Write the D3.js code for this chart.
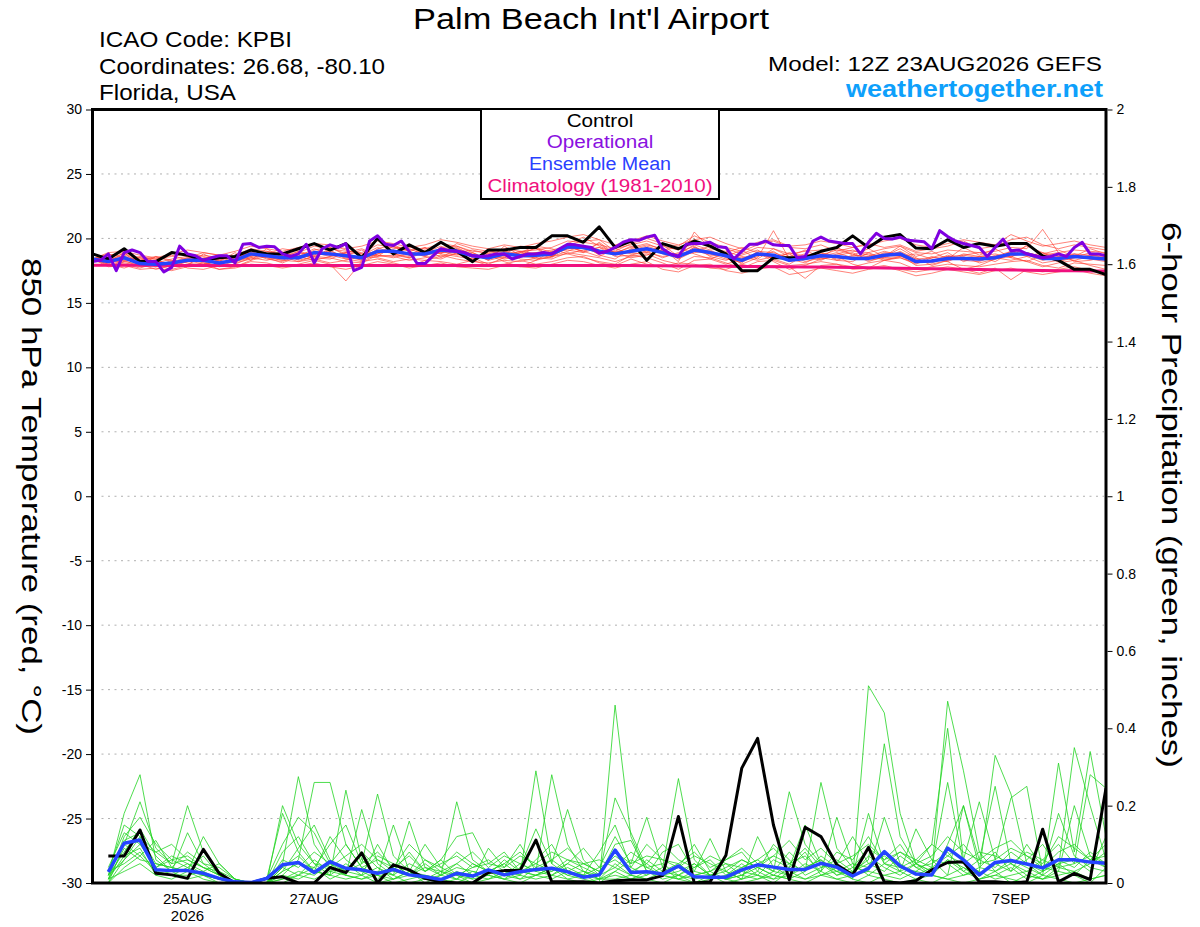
<!DOCTYPE html>
<html><head><meta charset="utf-8">
<script src="https://cdn.jsdelivr.net/npm/d3@7"></script>
<style>body{margin:0;background:#fff}svg{display:block}</style>
</head><body>
<svg id="chart" width="1200" height="927"></svg>
<script>
// ---------------- DATA ----------------
const RUN_START = "2026-08-23T12:00:00Z";
const STEP_HOURS = 6;          // ensemble / control / mean time step
const OPER_STEP_HOURS = 3;     // operational time step

const tempTicks = [-30,-25,-20,-15,-10,-5,0,5,10,15,20,25,30];
const tempGrid = [-25,-20,-15,-10,-5,0,5,10,15,20,25];
const precipTicks = [0,0.2,0.4,0.6,0.8,1,1.2,1.4,1.6,1.8,2];
const xTickDates = ["2026-08-25T00:00:00Z","2026-08-27T00:00:00Z","2026-08-29T00:00:00Z","2026-09-01T00:00:00Z","2026-09-03T00:00:00Z","2026-09-05T00:00:00Z","2026-09-07T00:00:00Z"];
const xTickLabels = ["25AUG","27AUG","29AUG","1SEP","3SEP","5SEP","7SEP"];
const yearLabel = "2026";

const legendItems = ["Control","Operational","Ensemble Mean","Climatology (1981-2010)"];

// 850 hPa temperature, control (0..384h every 6h)
const tempControl = [
18.8,18.4,19.2,18.2,18.2,18.9,18.7,18.3,18.5,18.6,
19.1,18.8,18.8,19.2,19.6,19.1,19.6,18.5,20.0,18.8,
19.5,18.9,19.7,19.0,18.2,19.1,19.1,19.3,19.3,20.2,
20.2,19.7,20.9,19.3,19.8,18.3,19.6,19.2,19.8,19.4,
18.8,17.5,17.5,18.5,18.5,18.5,19.0,19.3,20.2,19.3,
20.1,20.3,19.25,19.2,19.9,19.3,19.6,19.4,19.6,19.6,
18.65,18.3,17.6,17.6,17.2];

// ensemble mean temperature
const tempMean = [
18.4,18.2,18.5,18.05,18.0,18.1,18.3,18.3,18.1,18.3,
18.8,18.65,18.5,18.5,18.9,18.8,18.65,18.5,19.0,19.0,
18.8,18.8,19.1,19.0,18.65,18.5,18.8,18.65,18.7,18.8,
19.35,19.3,19.0,18.8,19.0,19.2,18.9,18.6,19.1,18.9,
18.65,18.3,18.8,18.7,18.3,18.45,18.65,18.6,18.45,18.45,
18.7,18.8,18.2,18.25,18.45,18.45,18.4,18.5,18.8,18.8,
18.45,18.45,18.6,18.5,18.4];

// climatology (1981-2010)
const tempClimo = [
17.92,17.92,17.91,17.91,17.91,17.90,17.90,17.90,17.90,17.90,
17.89,17.89,17.89,17.89,17.89,17.89,17.89,17.89,17.89,17.89,
17.89,17.89,17.90,17.90,17.90,17.90,17.90,17.90,17.90,17.90,
17.90,17.90,17.90,17.89,17.89,17.88,17.88,17.87,17.86,17.85,
17.84,17.83,17.82,17.81,17.80,17.79,17.78,17.76,17.74,17.72,
17.70,17.68,17.66,17.64,17.62,17.60,17.58,17.56,17.55,17.53,
17.52,17.50,17.49,17.48,17.47];

// operational temperature (0..384h every 3h)
const tempOper = [
18.2,18.3,18.8,17.5,18.9,19.1,18.9,18.2,18.2,17.4,
17.75,19.4,18.8,18.65,18.3,18.5,18.65,18.65,18.1,19.55,
19.6,19.3,19.4,19.35,18.8,18.6,18.8,19.55,18.1,19.2,
19.5,19.3,19.6,17.5,17.75,19.8,20.2,19.55,19.45,19.8,
19.0,18.05,18.05,18.65,19.2,19.05,19.0,18.9,18.65,18.6,
18.65,18.8,18.8,18.4,18.6,18.8,18.8,18.9,18.8,19.2,
19.55,19.5,19.4,19.3,18.85,19.0,19.3,19.7,19.9,19.85,
20.1,20.25,19.2,18.8,18.6,19.55,19.6,19.6,19.7,19.35,
19.3,18.4,19.0,19.55,19.55,19.8,19.5,19.45,19.45,18.5,
18.6,19.8,20.1,19.8,19.7,19.6,19.6,18.8,19.7,20.4,
20.0,19.95,20.1,19.85,19.8,19.75,19.2,20.6,20.15,19.8,
19.6,19.45,19.3,18.6,19.3,19.95,19.05,19.1,18.8,18.65,
18.5,18.6,18.8,18.6,19.3,19.7,18.8,18.8,18.65];

// ensemble members, temperature
const tempMember01 = [
18.4,18.6,18.3,18.5,18.2,17.9,18.4,18.7,18.5,18.2,
18.6,19.0,18.7,18.4,19.1,19.3,18.8,18.3,19.2,19.5,
19.0,18.6,19.3,19.4,18.9,18.3,18.6,19.0,18.8,18.5,
19.6,20.1,19.4,18.9,19.3,19.6,19.1,18.4,19.0,19.4,
18.8,18.0,18.5,20.6,18.4,18.1,18.7,19.1,18.8,18.2,
18.6,19.2,18.5,17.9,18.3,18.8,18.6,18.2,18.9,19.4,
18.9,18.3,18.5,18.9,18.7];
const tempMember02 = [
18.4,18.0,18.6,18.2,17.8,18.3,18.1,17.9,18.4,18.6,
18.9,18.4,18.2,18.7,18.5,18.4,18.9,18.8,18.6,18.7,
18.5,19.0,18.8,18.6,18.4,18.8,19.1,18.4,18.3,19.0,
19.1,18.9,19.3,18.6,18.7,19.0,18.5,18.9,19.4,18.6,
18.3,18.7,19.1,18.4,18.0,18.7,18.9,18.3,18.2,18.9,
18.4,18.5,18.0,18.5,18.9,18.2,18.6,18.8,18.5,18.2,
18.7,18.9,18.2,18.3,18.6];
const tempMember03 = [
18.4,18.3,18.0,17.7,18.1,18.4,18.6,18.2,17.8,18.0,
18.5,18.8,18.9,18.3,18.6,19.1,18.4,18.2,18.8,19.2,
19.4,18.7,18.9,19.2,18.5,18.0,18.5,18.9,19.2,18.6,
19.0,19.5,18.7,18.4,19.2,19.5,19.2,18.2,20.5,19.2,
19.0,18.6,18.3,18.6,18.8,18.2,18.5,18.3,18.7,18.6,
19.0,18.7,17.9,18.0,18.3,18.6,18.1,18.4,19.0,18.6,
18.1,18.3,18.8,18.4,18.2];
const tempMember04 = [
18.4,18.5,18.8,18.4,18.3,17.8,18.0,18.5,18.6,18.4,
19.0,18.5,18.1,18.6,19.2,18.7,18.4,18.7,19.3,18.8,
18.5,18.9,19.4,18.8,18.6,18.7,18.4,18.6,18.9,19.1,
19.4,19.0,18.6,19.2,18.8,18.9,18.6,18.8,19.5,19.1,
18.5,18.1,19.0,18.9,18.5,18.8,18.4,18.7,18.9,18.3,
18.5,19.0,18.4,18.2,18.7,18.3,18.2,18.7,18.6,18.9,
18.6,18.2,18.5,18.7,18.5];
const tempMember05 = [
18.4,17.9,18.2,18.0,17.6,17.9,18.2,18.4,18.0,17.8,
18.3,18.6,18.3,18.2,18.6,18.5,18.2,18.1,18.7,18.6,
18.3,18.5,18.7,18.4,18.2,18.1,18.3,18.2,18.5,18.4,
18.9,18.7,18.5,18.2,18.6,18.8,18.3,18.0,18.6,18.5,
18.1,17.7,18.2,18.3,17.9,18.0,18.2,18.0,17.8,18.1,
18.3,18.1,17.6,17.8,18.0,17.9,17.8,18.0,18.2,18.3,
17.9,17.7,18.1,18.0,17.9];
const tempMember06 = [
18.4,18.7,18.9,18.5,18.4,18.6,18.8,18.6,18.3,18.7,
19.2,19.0,18.8,18.9,19.4,19.2,19.0,18.9,19.5,19.3,
19.1,19.2,19.6,19.4,19.0,18.9,19.2,19.0,19.1,19.3,
19.8,19.7,19.5,19.2,19.5,19.8,19.4,19.1,19.6,19.5,
19.2,18.8,19.3,19.2,18.8,19.0,19.1,19.2,19.0,18.9,
19.2,19.4,18.9,18.8,19.1,19.0,18.9,19.0,19.3,19.2,
20.7,18.9,19.1,19.0,18.9];
const tempMember07 = [
18.4,18.1,18.3,17.8,17.9,18.2,17.7,17.6,17.9,18.2,
18.5,18.3,18.6,18.2,18.4,18.1,18.3,18.6,18.5,18.2,
18.4,18.3,18.6,18.8,18.4,18.7,18.2,17.8,18.3,18.6,
18.8,18.5,18.2,18.0,18.7,18.5,18.1,17.6,18.3,18.4,
18.0,18.4,18.9,18.2,17.6,17.9,18.4,18.6,18.0,17.7,
18.3,18.5,18.1,18.6,18.2,17.6,17.9,18.4,18.6,18.2,
17.8,18.1,18.3,17.9,17.6];
const tempMember08 = [
18.4,18.2,18.4,18.1,18.2,18.0,18.5,18.3,18.1,18.4,
18.7,18.5,18.3,18.8,18.9,18.6,18.9,18.4,18.8,19.1,
18.7,18.9,19.0,18.7,18.9,18.4,18.9,18.6,18.5,19.0,
19.2,19.3,18.8,19.0,18.9,19.1,19.0,18.7,18.9,19.0,
18.6,18.5,18.8,18.5,18.4,18.6,18.9,18.6,18.4,18.6,
18.8,18.9,18.4,18.5,18.6,18.7,18.5,18.6,19.0,18.9,
18.6,18.7,18.8,18.7,18.6];
const tempMember09 = [
18.4,18.3,18.7,18.3,18.0,18.1,18.2,18.4,18.6,18.3,
18.6,18.9,18.6,18.4,18.8,19.0,18.6,18.3,19.0,18.9,
19.2,18.7,19.1,19.3,18.7,18.4,18.7,19.0,18.4,18.6,
19.3,19.0,19.6,18.7,19.1,19.4,19.0,18.5,19.3,18.8,
18.4,18.2,18.6,19.0,18.2,18.5,18.8,18.4,18.6,18.8,
18.5,18.6,18.3,18.1,18.6,18.5,18.3,18.5,18.9,18.7,
18.3,18.6,18.7,18.5,18.3];
const tempMember10 = [
18.4,18.4,18.1,17.9,18.3,18.0,18.4,18.1,17.9,18.5,
18.9,18.7,18.4,18.5,18.7,18.9,18.5,18.6,19.1,18.8,
18.6,19.1,18.9,18.9,18.6,18.5,19.0,18.8,18.9,18.7,
19.2,19.4,19.1,18.8,18.9,19.3,18.8,18.5,19.1,18.7,
18.7,18.4,18.7,18.6,18.3,18.4,18.6,18.9,18.5,18.4,
18.9,18.8,18.1,18.3,18.5,18.4,18.6,18.6,18.7,18.8,
18.4,18.5,18.6,18.4,18.5];
const tempMember11 = [
18.4,18.8,18.5,18.3,18.6,18.2,18.5,18.9,18.7,18.6,
19.1,18.8,19.2,19.0,18.7,19.5,19.1,18.8,18.9,19.4,
19.0,19.3,18.8,19.6,19.2,19.0,18.8,19.4,19.3,18.9,
19.5,19.8,19.9,19.0,19.6,20.0,19.6,19.4,20.2,19.7,
19.3,19.0,19.5,19.8,19.3,19.2,19.5,19.0,19.3,19.6,
19.3,19.5,19.0,19.2,19.4,19.8,19.2,19.4,19.9,20.1,
19.5,19.2,19.5,19.3,19.1];
const tempMember12 = [
18.4,18.0,17.7,18.1,17.9,17.6,17.9,18.1,17.6,17.8,
18.2,18.1,17.8,18.0,18.3,18.0,16.7,18.2,18.4,18.1,
17.8,18.3,18.2,18.0,18.3,17.9,18.0,18.3,18.0,18.2,
18.5,18.6,18.1,17.9,18.4,18.0,17.8,18.1,18.0,17.7,
17.6,18.0,17.7,17.9,17.8,16.9,17.9,18.0,17.6,17.7,
17.9,17.6,17.4,17.6,17.8,17.6,17.3,17.7,16.8,17.6,
17.4,17.6,17.8,17.5,17.3];
const tempMember13 = [
18.4,18.9,19.0,18.7,18.5,18.8,19.1,18.9,18.7,19.0,
19.4,19.2,19.0,19.3,19.6,19.5,19.2,19.4,19.8,19.6,
19.3,19.5,19.9,19.7,19.4,19.2,19.5,19.3,19.6,19.8,
20.1,20.3,19.9,19.5,19.8,20.2,19.8,19.5,19.9,20.1,
19.6,19.2,19.7,19.9,19.4,19.5,19.8,19.6,19.3,19.5,
19.8,20.0,19.5,19.3,19.6,19.9,19.7,19.5,20.3,19.8,
19.4,19.6,19.8,19.5,19.3];
const tempMember14 = [
18.4,17.8,17.9,17.6,17.7,17.5,17.8,17.9,17.6,17.7,
18.0,17.9,17.7,17.9,18.1,17.8,17.6,17.9,18.2,18.0,
17.7,17.9,18.1,17.8,17.7,17.6,17.9,17.8,17.7,18.0,
18.3,18.2,17.9,17.7,18.0,18.2,17.6,17.4,17.9,18.0,
17.5,17.3,17.6,17.8,17.2,17.4,17.7,17.5,17.3,17.6,
17.8,17.5,17.1,17.3,17.6,17.4,17.2,17.5,17.7,17.4,
17.2,17.4,17.6,17.3,17.1];
const tempMember15 = [
18.4,18.2,18.9,17.9,18.6,18.3,17.9,18.8,18.2,18.9,
18.3,19.2,18.5,19.0,18.4,19.3,18.7,19.1,18.6,19.4,
18.7,19.3,18.5,19.2,18.8,18.3,19.4,18.7,19.3,18.6,
19.5,18.9,19.7,18.8,19.4,18.9,19.5,18.6,19.3,19.0,
18.6,19.1,18.4,19.2,18.6,19.1,18.5,19.3,18.7,19.2,
18.6,19.4,18.6,19.0,18.4,19.3,18.7,19.2,18.5,19.5,
18.8,19.1,18.6,19.2,18.8];
const tempMember16 = [
18.4,18.5,18.2,18.6,18.4,18.7,18.3,18.0,18.3,18.1,
18.4,18.7,18.9,18.6,18.3,18.6,18.9,19.2,18.7,18.5,
18.9,18.6,18.4,18.9,19.1,18.8,18.5,18.9,19.4,19.2,
18.8,19.1,19.3,18.9,18.5,18.7,19.1,19.3,18.8,18.4,
18.9,19.3,18.9,18.4,18.9,18.6,18.3,18.8,19.1,18.7,
18.3,18.6,18.8,18.4,18.2,18.7,18.9,18.5,18.3,18.6,
18.9,18.6,18.3,18.6,18.8];
const tempMembers = [tempMember01,tempMember02,tempMember03,tempMember04,tempMember05,tempMember06,
  tempMember07,tempMember08,tempMember09,tempMember10,tempMember11,tempMember12,
  tempMember13,tempMember14,tempMember15,tempMember16];

// 6-hour precipitation (6..384h every 6h)
const precipControl = [
0.07,0.07,0.137,0.025,0.021,0.012,0.087,0.025,
0,0,0.012,0.016,0,0,0.04,0.027,
0.078,0,0.047,0.034,0.012,0.003,0,0,
0.027,0.032,0.032,0.111,0.003,0.003,0.003,0,
0.006,0.008,0.008,0.019,0.172,0,0.003,0.072,
0.297,0.374,0.15,0.008,0.144,0.12,0.047,0.021,
0.092,0.003,0,0.006,0.034,0.053,0.055,0.003,
0.003,0,0.003,0.139,0.003,0.025,0.009,0.245];
const precipMean = [
0.029,0.103,0.111,0.034,0.032,0.032,0.025,0.012,
0.003,0.001,0.012,0.047,0.053,0.027,0.055,0.038,
0.034,0.025,0.035,0.021,0.016,0.009,0.025,0.018,
0.034,0.021,0.029,0.035,0.038,0.029,0.015,0.021,
0.085,0.027,0.029,0.023,0.044,0.016,0.015,0.015,
0.034,0.047,0.041,0.035,0.035,0.051,0.041,0.018,
0.038,0.081,0.044,0.023,0.021,0.09,0.06,0.021,
0.053,0.058,0.049,0.039,0.06,0.06,0.054,0.051];
const precipMember01 = [
0.02,0.18,0.28,0.06,0.03,0.05,0.02,0.01, 0,0,0,0.05,0.275,0.1,0.04,0.02,
0.01,0.03,0.02,0.0,0.01,0.02,0.05,0.02, 0.01,0.03,0.02,0.29,0.05,0.02,0.01,0.0,
0.46,0.12,0.03,0.01,0.02,0.05,0.02,0.0, 0.01,0.03,0.01,0.02,0.04,0.06,0.03,0.01,
0.51,0.44,0.18,0.05,0.02,0.06,0.03,0.01, 0.02,0.04,0.01,0.03,0.05,0.02,0.06,0.04];
const precipMember02 = [
0.0,0.1,0.21,0.09,0.05,0.2,0.08,0.03, 0,0,0,0.02,0.06,0.26,0.26,0.1,
0.04,0.02,0.01,0.03,0.02,0.01,0.0,0.02, 0.03,0.02,0.05,0.03,0.28,0.1,0.03,0.01,
0.05,0.02,0.01,0.03,0.02,0.0,0.01,0.02, 0.04,0.06,0.03,0.236,0.1,0.05,0.02,0.03,
0.06,0.36,0.12,0.05,0.03,0.47,0.29,0.08, 0.03,0.05,0.02,0.01,0.04,0.35,0.2,0.06];
const precipMember03 = [
0.03,0.15,0.12,0.05,0.04,0.03,0.12,0.05, 0.01,0,0,0.2,0.1,0.05,0.02,0.24,
0.06,0.02,0.15,0.03,0.01,0.0,0.01,0.03, 0.02,0.01,0.04,0.14,0.05,0.19,0.06,0.02,
0.22,0.13,0.04,0.02,0.01,0.03,0.02,0.01, 0.02,0.04,0.02,0.01,0.03,0.26,0.09,0.04,
0.03,0.17,0.05,0.02,0.04,0.26,0.05,0.03, 0.33,0.23,0.05,0.02,0.31,0.08,0.34,0.12];
const precipMember04 = [
0.01,0.12,0.17,0.1,0.06,0.04,0.02,0.01, 0,0,0.01,0.1,0.17,0.13,0.05,0.02,
0.19,0.05,0.02,0.16,0.04,0.02,0.21,0.06, 0.03,0.02,0.01,0.02,0.03,0.05,0.09,0.04,
0.12,0.05,0.17,0.04,0.27,0.06,0.02,0.01, 0.03,0.02,0.01,0.04,0.15,0.05,0.03,0.02,
0.18,0.05,0.03,0.14,0.06,0.02,0.2,0.06, 0.25,0.05,0.03,0.06,0.04,0.05,0.28,0.245];
const precipMember05 = [
0.02,0.08,0.14,0.07,0.03,0.13,0.05,0.02, 0,0,0,0.03,0.05,0.04,0.1,0.15,
0.05,0.23,0.07,0.03,0.1,0.04,0.02,0.01, 0.09,0.04,0.1,0.03,0.02,0.04,0.02,0.08,
0.15,0.04,0.02,0.08,0.1,0.03,0.115,0.03, 0.01,0.12,0.04,0.02,0.05,0.03,0.17,0.05,
0.04,0.08,0.03,0.05,0.1,0.4,0.06,0.21, 0.06,0.22,0.25,0.03,0.18,0.07,0.04,0.03];
const precipMember06 = [
0.0,0.06,0.1,0.04,0.07,0.05,0.03,0.05, 0.01,0,0.01,0.18,0.08,0.03,0.02,0.05,
0.02,0.1,0.03,0.08,0.03,0.06,0.12,0.13, 0.05,0.08,0.03,0.02,0.04,0.02,0.03,0.02,
0.1,0.11,0.03,0.02,0.04,0.1,0.03,0.06, 0.08,0.03,0.1,0.06,0.02,0.04,0.05,0.12,
0.05,0.03,0.07,0.04,0.02,0.1,0.2,0.04, 0.08,0.03,0.1,0.04,0.03,0.2,0.07,0.05];
const precipMember07 = [
0.03,0.05,0.08,0.03,0.02,0.04,0.07,0.02, 0,0,0,0.04,0.02,0.06,0.03,0.04,
0.03,0.01,0.05,0.02,0.04,0.03,0.01,0.05, 0.03,0.05,0.02,0.06,0.1,0.03,0.02,0.04,
0.06,0.03,0.05,0.02,0.03,0.05,0.02,0.04, 0.06,0.04,0.02,0.05,0.03,0.07,0.04,0.02,
0.07,0.04,0.02,0.05,0.03,0.06,0.04,0.02, 0.05,0.03,0.06,0.1,0.04,0.03,0.05,0.08];
const precipMember08 = [
0.01,0.09,0.06,0.05,0.04,0.03,0.02,0.01, 0,0,0,0.01,0.03,0.02,0.05,0.03,
0.08,0.04,0.02,0.05,0.03,0.06,0.02,0.04, 0.06,0.03,0.01,0.04,0.02,0.05,0.03,0.01,
0.03,0.06,0.04,0.05,0.02,0.04,0.06,0.02, 0.05,0.02,0.06,0.04,0.08,0.02,0.03,0.05,
0.02,0.05,0.04,0.03,0.06,0.05,0.02,0.04, 0.03,0.06,0.04,0.02,0.05,0.06,0.03,0.12];
const precipMember09 = [
0.02,0.11,0.13,0.04,0.06,0.07,0.04,0.02, 0.0,0,0,0.06,0.04,0.08,0.05,0.1,
0.04,0.06,0.03,0.02,0.05,0.02,0.04,0.03, 0.02,0.06,0.03,0.05,0.03,0.06,0.04,0.02,
0.04,0.02,0.06,0.03,0.05,0.02,0.03,0.05, 0.02,0.05,0.03,0.08,0.04,0.06,0.02,0.04,
0.09,0.06,0.1,0.04,0.05,0.08,0.03,0.06, 0.04,0.08,0.05,0.03,0.06,0.04,0.08,0.05];
const precipMember10 = [
0.0,0.04,0.07,0.03,0.02,0.02,0.03,0.01, 0,0,0,0.02,0.01,0.03,0.02,0.01,
0.02,0.04,0.01,0.02,0.01,0.03,0.02,0.0, 0.01,0.02,0.03,0.02,0.01,0.03,0.02,0.01,
0.02,0.01,0.03,0.02,0.01,0.02,0.03,0.01, 0.02,0.01,0.03,0.02,0.01,0.03,0.01,0.02,
0.03,0.02,0.01,0.03,0.02,0.01,0.02,0.03, 0.01,0.02,0.03,0.01,0.02,0.03,0.01,0.02];
const precipMember11 = [
0.04,0.13,0.1,0.08,0.05,0.06,0.04,0.03, 0.01,0,0,0.08,0.12,0.05,0.04,0.07,
0.1,0.06,0.04,0.07,0.03,0.05,0.07,0.04, 0.05,0.04,0.07,0.05,0.08,0.06,0.05,0.03,
0.08,0.05,0.07,0.06,0.04,0.07,0.05,0.03, 0.06,0.04,0.07,0.05,0.09,0.04,0.06,0.03,
0.05,0.07,0.04,0.06,0.1,0.07,0.05,0.08, 0.07,0.05,0.08,0.06,0.1,0.05,0.07,0.04];
const precipMember12 = [
0.01,0.07,0.09,0.02,0.03,0.01,0.02,0.0, 0,0,0,0.01,0.02,0.01,0.03,0.02,
0.01,0.02,0.0,0.01,0.02,0.01,0.03,0.01, 0.02,0.01,0.02,0.01,0.02,0.01,0.0,0.01,
0.01,0.02,0.01,0.0,0.02,0.01,0.02,0.01, 0.0,0.01,0.02,0.01,0.0,0.02,0.01,0.0,
0.02,0.01,0.0,0.01,0.02,0.01,0.0,0.01, 0.02,0.01,0.0,0.02,0.01,0.0,0.01,0.02];
const precipMember13 = [
0.02,0.06,0.12,0.08,0.1,0.06,0.04,0.02, 0,0,0,0.03,0.09,0.15,0.06,0.03,
0.05,0.08,0.04,0.1,0.06,0.03,0.05,0.08, 0.04,0.07,0.05,0.03,0.06,0.09,0.05,0.03,
0.07,0.04,0.1,0.06,0.05,0.08,0.04,0.06, 0.09,0.05,0.07,0.11,0.06,0.09,0.05,0.07,
0.1,0.06,0.08,0.05,0.07,0.12,0.08,0.06, 0.09,0.11,0.07,0.05,0.12,0.09,0.06,0.1];
const precipMember14 = [
0.01,0.03,0.05,0.02,0.01,0.03,0.01,0.0, 0,0,0,0.0,0.02,0.04,0.01,0.03,
0.02,0.0,0.01,0.03,0.0,0.02,0.01,0.0, 0.03,0.01,0.0,0.02,0.04,0.01,0.02,0.0,
0.03,0.01,0.02,0.04,0.01,0.0,0.02,0.03, 0.01,0.02,0.0,0.03,0.01,0.02,0.04,0.01,
0.0,0.02,0.03,0.01,0.0,0.02,0.04,0.01, 0.03,0.0,0.02,0.01,0.03,0.02,0.0,0.04];
const precipMember15 = [
0.03,0.1,0.07,0.11,0.04,0.08,0.05,0.04, 0.01,0,0,0.04,0.07,0.03,0.12,0.06,
0.03,0.07,0.05,0.02,0.06,0.04,0.08,0.05, 0.03,0.05,0.08,0.04,0.06,0.03,0.05,0.06,
0.04,0.08,0.05,0.1,0.06,0.04,0.07,0.05, 0.04,0.06,0.09,0.05,0.07,0.03,0.08,0.06,
0.12,0.05,0.08,0.06,0.04,0.07,0.1,0.05, 0.06,0.09,0.07,0.04,0.08,0.1,0.06,0.07];
const precipMembers = [precipMember01,precipMember02,precipMember03,precipMember04,precipMember05,precipMember06,
  precipMember07,precipMember08,precipMember09,precipMember10,precipMember11,precipMember12,
  precipMember13,precipMember14,precipMember15];

// ---------------- DRAWING ----------------
const FONT = "'Liberation Sans', Arial, Helvetica, sans-serif";
const HOUR = 3600 * 1000;
const t0 = new Date(RUN_START).getTime();
const L = 92.5, R = 1106, T = 109.5, B = 883;

const svg = d3.select("#chart").style("font-family", FONT);

const x = d3.scaleUtc().domain([new Date(t0), new Date(t0 + 384 * HOUR)]).range([L, R]);
const yT = d3.scaleLinear().domain([-30, 30]).range([B, T]);
const yP = d3.scaleLinear().domain([0, 2]).range([B, T]);

svg.append("defs").append("clipPath").attr("id", "plot")
  .append("rect").attr("x", L).attr("y", T).attr("width", R - L).attr("height", B - T);

// grid
svg.append("g").selectAll("line").data(tempGrid).join("line")
  .attr("x1", L + 9).attr("x2", R - 2)
  .attr("y1", d => yT(d)).attr("y2", d => yT(d))
  .attr("stroke", "#b0b0b0").attr("stroke-width", 1).attr("stroke-dasharray", "2,4.5");

const plot = svg.append("g").attr("clip-path", "url(#plot)");

const lineTemp = (stepH, offsetH) => d3.line()
  .x((d, i) => x(new Date(t0 + (offsetH + i * stepH) * HOUR)))
  .y(d => yT(d));
const linePrec = d3.line()
  .x((d, i) => x(new Date(t0 + (STEP_HOURS + i * STEP_HOURS) * HOUR)))
  .y(d => yP(d));

// ensemble members
plot.append("g").selectAll("path").data(tempMembers).join("path")
  .attr("d", lineTemp(STEP_HOURS, 0)).attr("fill", "none")
  .attr("stroke", "#ff3a2c").attr("stroke-width", 0.8).attr("stroke-opacity", 0.8)
  .attr("stroke-linejoin", "round");
plot.append("g").selectAll("path").data(precipMembers).join("path")
  .attr("d", linePrec).attr("fill", "none")
  .attr("stroke", "#22d422").attr("stroke-width", 0.8).attr("stroke-linejoin", "round");

// climatology
plot.append("path").datum(tempClimo).attr("d", lineTemp(STEP_HOURS, 0))
  .attr("fill", "none").attr("stroke", "#f0107e").attr("stroke-width", 3);

// control
plot.append("path").datum(tempControl).attr("d", lineTemp(STEP_HOURS, 0))
  .attr("fill", "none").attr("stroke", "#000").attr("stroke-width", 3).attr("stroke-linejoin", "round");
plot.append("path").datum(precipControl).attr("d", linePrec)
  .attr("fill", "none").attr("stroke", "#000").attr("stroke-width", 3).attr("stroke-linejoin", "round");

// ensemble mean
plot.append("path").datum(tempMean).attr("d", lineTemp(STEP_HOURS, 0))
  .attr("fill", "none").attr("stroke", "#2444ff").attr("stroke-width", 3.5).attr("stroke-linejoin", "round");
plot.append("path").datum(precipMean).attr("d", linePrec)
  .attr("fill", "none").attr("stroke", "#2444ff").attr("stroke-width", 3.5).attr("stroke-linejoin", "round");

// operational
plot.append("path").datum(tempOper).attr("d", lineTemp(OPER_STEP_HOURS, 0))
  .attr("fill", "none").attr("stroke", "#7f00e0").attr("stroke-width", 3).attr("stroke-linejoin", "round");

// frame
svg.append("rect").attr("x", L).attr("y", T).attr("width", R - L).attr("height", B - T)
  .attr("fill", "none").attr("stroke", "#000").attr("stroke-width", 3);

// left axis
const axL = svg.append("g").attr("transform", `translate(${L - 1.5},0)`)
  .call(d3.axisLeft(yT).tickValues(tempTicks).tickSize(5).tickPadding(4).tickFormat(d => String(d)));
axL.select(".domain").remove();
axL.selectAll("text").attr("font-size", 14).attr("font-family", FONT).attr("fill", "#000");
axL.selectAll("line").attr("stroke", "#000");

// right axis
const axR = svg.append("g").attr("transform", `translate(${R + 1.5},0)`)
  .call(d3.axisRight(yP).tickValues(precipTicks).tickSize(5).tickPadding(4).tickFormat(d3.format(".1~f")));
axR.select(".domain").remove();
axR.selectAll("text").attr("font-size", 14).attr("font-family", FONT).attr("fill", "#000");
axR.selectAll("line").attr("stroke", "#000");

// x labels
const xl = svg.append("g").attr("font-size", 15).attr("text-anchor", "middle").attr("fill", "#000");
xl.selectAll("text.d").data(xTickDates).join("text").attr("class", "d")
  .attr("x", d => x(new Date(d))).attr("y", 904)
  .text((d, i) => xTickLabels[i]);
xl.append("text").attr("x", x(new Date(xTickDates[0]))).attr("y", 921).text(yearLabel);

// header
svg.append("text").attr("x", 413).attr("y", 29).attr("font-size", 30)
  .attr("textLength", 356).attr("lengthAdjust", "spacingAndGlyphs").text("Palm Beach Int'l Airport");
const hdr = [["ICAO Code: KPBI", 47, 193], ["Coordinates: 26.68, -80.10", 73.5, 286], ["Florida, USA", 99.5, 137]];
hdr.forEach(h => svg.append("text").attr("x", 99).attr("y", h[1]).attr("font-size", 22)
  .attr("textLength", h[2]).attr("lengthAdjust", "spacingAndGlyphs").text(h[0]));
svg.append("text").attr("x", 1102).attr("y", 71).attr("font-size", 21).attr("text-anchor", "end")
  .attr("textLength", 334).attr("lengthAdjust", "spacingAndGlyphs").text("Model: 12Z 23AUG2026 GEFS");
svg.append("text").attr("x", 1103).attr("y", 97).attr("font-size", 24).attr("font-weight", "bold")
  .attr("fill", "#0ea0fb").attr("text-anchor", "end")
  .attr("textLength", 257).attr("lengthAdjust", "spacingAndGlyphs").text("weathertogether.net");

// axis titles
svg.append("text").attr("transform", "translate(22,496.5) rotate(90)").attr("text-anchor", "middle")
  .attr("font-size", 27).attr("textLength", 477).attr("lengthAdjust", "spacingAndGlyphs")
  .text("850 hPa Temperature (red, \u00B0C)");
svg.append("text").attr("transform", "translate(1162,495) rotate(90)").attr("text-anchor", "middle")
  .attr("font-size", 28).attr("textLength", 546).attr("lengthAdjust", "spacingAndGlyphs")
  .text("6-hour Precipitation (green, inches)");

// legend
svg.append("rect").attr("x", 481).attr("y", 109).attr("width", 238).attr("height", 90)
  .attr("fill", "#fff").attr("stroke", "#000").attr("stroke-width", 2);
const legColors = ["#000000", "#8a10e0", "#2a40ff", "#f0107e"];
const legY = [126.7, 148.3, 169.8, 191.5];
const legW = [66.7, 106.7, 142, 225];
legendItems.forEach((t, i) => svg.append("text").attr("x", 600).attr("y", legY[i])
  .attr("text-anchor", "middle").attr("font-size", 18).attr("fill", legColors[i])
  .attr("textLength", legW[i]).attr("lengthAdjust", "spacingAndGlyphs").text(t));
</script>
</body></html>
